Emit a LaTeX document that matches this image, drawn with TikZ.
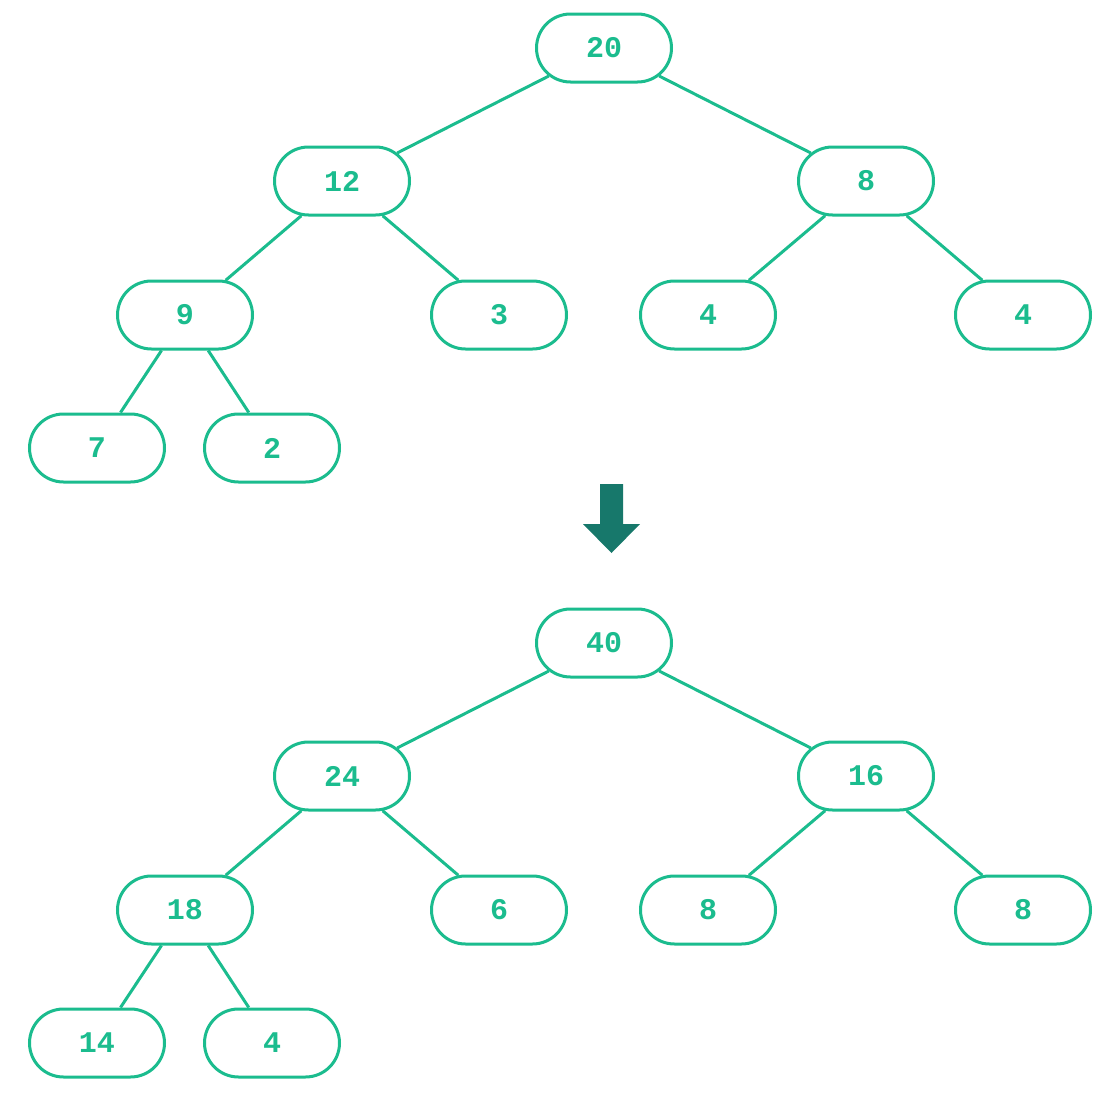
\documentclass[tikz,border=0pt]{standalone}
\usepackage{fontspec}
\setmonofont{Liberation Mono}
\usetikzlibrary{positioning,shapes.misc}
\definecolor{leafgreen}{HTML}{1BBC8E}
\definecolor{arrowteal}{HTML}{17786B}
\tikzset{
  tnode/.style={rounded rectangle, draw=leafgreen, line width=3pt, text=leafgreen,
    minimum width=135pt, minimum height=68pt, inner sep=0pt,
    font=\ttfamily\bfseries\fontsize{30}{30}\selectfont},
  tedge/.style={draw=leafgreen, line width=3pt}
}
\begin{document}
\begin{tikzpicture}[x=1pt,y=1pt,on grid]
\useasboundingbox (0,0) rectangle (1104,-1100);

% before
\node[tnode]                                  (n20) at (604,-48) {20};
\node[tnode, below left=133pt and 262pt of n20]  (n12) {12};
\node[tnode, below right=133pt and 262pt of n20] (n8)  {8};
\node[tnode, below left=134pt and 157pt of n12]  (n9)  {9};
\node[tnode, below right=134pt and 157pt of n12] (n3)  {3};
\node[tnode, below left=134pt and 158pt of n8]   (n4a) {4};
\node[tnode, below right=134pt and 157pt of n8]  (n4b) {4};
\node[tnode, below left=133pt and 88pt of n9]    (n7)  {7};
\node[tnode, below right=133pt and 87pt of n9]   (n2)  {2};

\draw[tedge] (n20) -- (n12);
\draw[tedge] (n20) -- (n8);
\draw[tedge] (n12) -- (n9);
\draw[tedge] (n12) -- (n3);
\draw[tedge] (n8) -- (n4a);
\draw[tedge] (n8) -- (n4b);
\draw[tedge] (n9) -- (n7);
\draw[tedge] (n9) -- (n2);

% arrow
\fill[arrowteal] (600,-484) -- (623,-484) -- (623,-524) -- (640,-524)
  -- (611.5,-553) -- (583,-524) -- (600,-524) -- cycle;

% after
\node[tnode, below=595pt of n20]                 (m40) {40};
\node[tnode, below left=133pt and 262pt of m40]  (m24) {24};
\node[tnode, below right=133pt and 262pt of m40] (m16) {16};
\node[tnode, below left=134pt and 157pt of m24]  (m18) {18};
\node[tnode, below right=134pt and 157pt of m24] (m6)  {6};
\node[tnode, below left=134pt and 158pt of m16]  (m8a) {8};
\node[tnode, below right=134pt and 157pt of m16] (m8b) {8};
\node[tnode, below left=133pt and 88pt of m18]   (m14) {14};
\node[tnode, below right=133pt and 87pt of m18]  (m4)  {4};

\draw[tedge] (m40) -- (m24);
\draw[tedge] (m40) -- (m16);
\draw[tedge] (m24) -- (m18);
\draw[tedge] (m24) -- (m6);
\draw[tedge] (m16) -- (m8a);
\draw[tedge] (m16) -- (m8b);
\draw[tedge] (m18) -- (m14);
\draw[tedge] (m18) -- (m4);

\end{tikzpicture}
\end{document}
